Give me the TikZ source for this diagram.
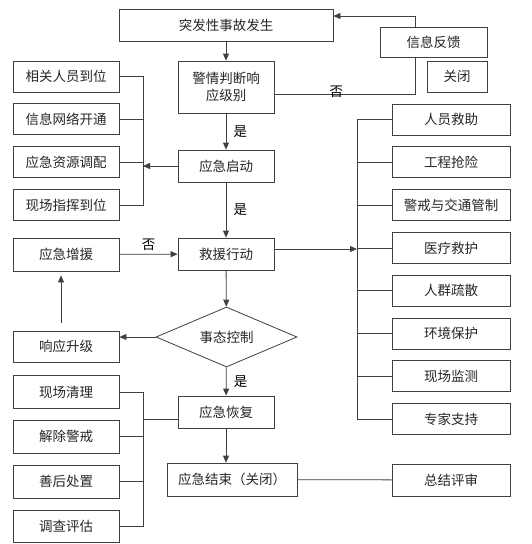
\documentclass[tikz,border=0pt]{standalone}
\usepackage{fontspec}
\setmainfont{Noto Sans CJK SC}
\usetikzlibrary{positioning,arrows.meta,shapes.geometric}

\begin{document}
\begin{tikzpicture}[
  x=1pt, y=-1pt,
  font=\fontsize{13.5}{17}\selectfont,
  box/.style={draw=black!75, line width=0.8pt, minimum width=106pt, minimum height=31pt, inner sep=0pt, align=center, text=black!85},
  mid/.style={box, minimum width=96pt},
  side/.style={box, minimum width=118pt},
  dec/.style={box, diamond, shape aspect=2.35, minimum width=141pt, minimum height=60pt},
  arr/.style={-{Triangle[length=7pt,width=6pt]}, line width=0.8pt, draw=black!75},
  ln/.style={line width=0.8pt, draw=black!75},
  node distance=11pt]
  \useasboundingbox (0,0) rectangle (532,544);
  \coordinate (lbus) at (143,0);
  \coordinate (rbus) at (357,0);
  % middle column
  \node[box, minimum width=214pt, minimum height=32pt] (acc) at (226,25) {突发性事故发生};
  \node[mid, minimum height=52pt] (judge) at (226,87) {警情判断响\\应级别};
  \node[mid, minimum height=32pt] (start) at (226,166) {应急启动};
  \node[mid, minimum height=32pt] (rescue) at (226,254) {救援行动};
  \node[dec] (ctrl) at (226.5,337) {事态控制};
  \node[mid, minimum height=32pt] (recover) at (226,412) {应急恢复};
  \node[box, minimum width=130pt, minimum height=33pt] (end) at (232,479.5) {应急结束（关闭）};
  % feedback
  \node[box, minimum width=107pt, minimum height=30pt] (fb) at (433.5,42) {信息反馈};
  \node[box, minimum width=60pt] (close) at (457,76.5) {关闭};
  \coordinate (fbx) at ([xshift=-18.5pt]fb.south);
  % left column
  \node[box] (l1) at (66,76.5) {相关人员到位};
  \node[box, below=of l1] (l2) {信息网络开通};
  \node[box, below=of l2] (l3) {应急资源调配};
  \node[box, below=of l3] (l4) {现场指挥到位};
  \node[box, minimum height=33pt] (reinf) at (66,254.5) {应急增援};
  \node[box] (upgr) at (66,346.5) {响应升级};
  \node[box, minimum height=33pt] (c1) at (66,392) {现场清理};
  \node[box, minimum height=33pt, below=of c1] (c2) {解除警戒};
  \node[box, minimum height=33pt, below=of c2] (c3) {善后处置};
  \node[box, minimum height=32pt, below=of c3] (c4) {调查评估};
  % right column
  \node[side] (r1) at (451,119.5) {人员救助};
  \node[side, below=of r1] (r2) {工程抢险};
  \node[side, below=of r2] (r3) {警戒与交通管制};
  \node[side, below=of r3] (r4) {医疗救护};
  \node[side, below=of r4] (r5) {人群疏散};
  \node[side, below=of r5] (r6) {环境保护};
  \node[side, below=of r6] (r7) {现场监测};
  \node[side, below=of r7] (r8) {专家支持};
  \node[side, minimum height=32pt] (sum) at (451,480) {总结评审};

  \draw[arr] (acc) -- (judge);
  \draw[arr] (judge) -- node[right=4pt]{是} (start);
  \draw[arr] (start) -- node[right=4pt]{是} (rescue);
  \draw[arr] (rescue) -- (ctrl);
  \draw[arr] (ctrl) -- node[right=4pt]{是} (recover);
  \draw[arr] (recover.south) -- (recover.south |- end.north);
  \draw[ln] (end) -- (sum);
  \draw[arr] (ctrl.west) -- (ctrl.west -| upgr.east);
  \draw[arr, shorten <=8pt, shorten >=4pt] ([xshift=-5pt]upgr.north) -- ([xshift=-5pt]reinf.south);
  \draw[arr] (reinf) -- node[above]{否} (rescue);
  % feedback loop
  \draw[ln] ([yshift=-7pt]judge.east) -| node[pos=0.22, yshift=2pt]{否} (fbx);
  \draw[arr] (fbx |- fb.north) |- ([yshift=9pt]acc.east);
  % left brackets
  \draw[ln] (l1.east) -- (l1.east -| lbus) -- (l4.east -| lbus) -- (l4.east);
  \draw[ln] (l2.east) -- (l2.east -| lbus);
  \draw[ln] (l3.east) -- (l3.east -| lbus);
  \draw[arr] (start.west) -- (start.west -| lbus);
  \draw[ln] (c1.east) -- (c1.east -| lbus) -- (c4.east -| lbus) -- (c4.east);
  \draw[ln] (c2.east) -- (c2.east -| lbus);
  \draw[ln] (c3.east) -- (c3.east -| lbus);
  \draw[ln] ([yshift=-7pt]recover.west) -- ([yshift=-7pt]recover.west -| lbus);
  % right bracket
  \draw[ln] (r1.west -| rbus) -- (r8.west -| rbus);
  \foreach \r in {r1,r2,r3,r4,r5,r6,r7,r8}
    \draw[ln] (\r.west) -- (\r.west -| rbus);
  \draw[arr] ([yshift=5pt]rescue.east) -- ([yshift=5pt]rescue.east -| rbus);
\end{tikzpicture}
\end{document}
